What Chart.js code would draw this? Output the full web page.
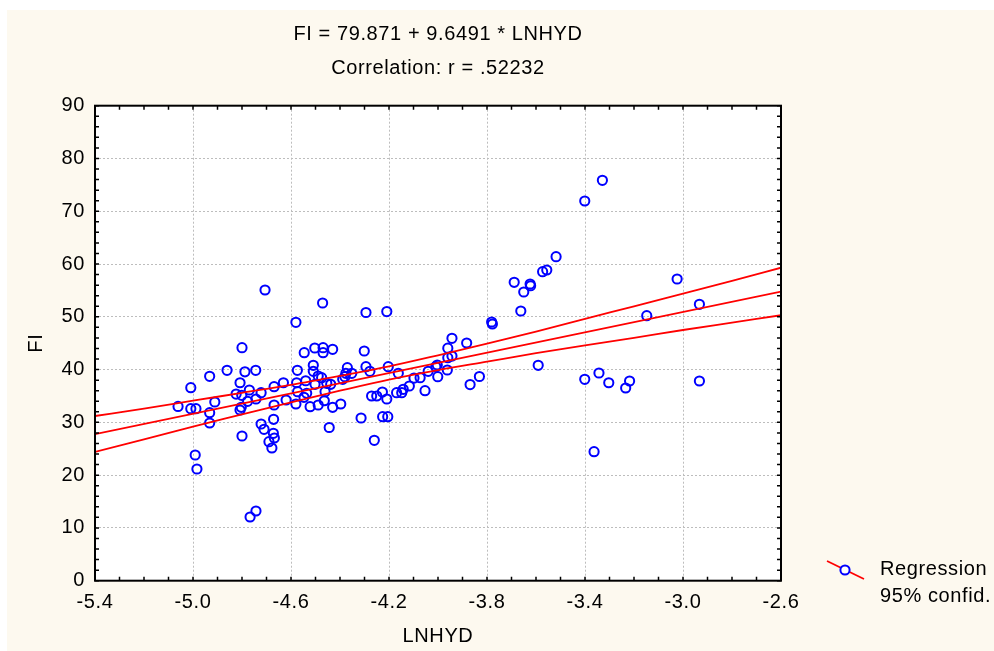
<!DOCTYPE html>
<html>
<head>
<meta charset="utf-8">
<script src="https://cdn.jsdelivr.net/npm/chart.js@4.4.1/dist/chart.umd.min.js"></script>
<style>
  html, body { margin: 0; padding: 0; background: #fff; }
  #wrap { width: 994px; height: 651px; position: relative; }
</style>
</head>
<body>
<div id="wrap"><canvas id="chart" width="994" height="651"></canvas></div>
<script>
// observed points (LNHYD, FI)
var lnhyd = [
  -5.061, -5.009, -5.009, -4.988, -4.991, -4.984, -4.932, -4.911, -4.932, -4.932,
  -4.861, -4.800, -4.808, -4.824, -4.801, -4.808, -4.803, -4.800, -4.788, -4.777,
  -4.770, -4.767, -4.743, -4.744, -4.743, -4.722, -4.722, -4.710, -4.706, -4.690,
  -4.669, -4.669, -4.671, -4.672, -4.668, -4.678, -4.631, -4.620, -4.580, -4.574,
  -4.577, -4.580, -4.573, -4.540, -4.546, -4.536, -4.547, -4.502, -4.522, -4.503,
  -4.509, -4.489, -4.509, -4.489, -4.471, -4.469, -4.469, -4.454, -4.461, -4.464,
  -4.438, -4.444, -4.430, -4.430, -4.397, -4.389, -4.376, -4.380, -4.370, -4.352,
  -4.475,
  -4.314, -4.301, -4.294, -4.294, -4.278, -4.260, -4.271, -4.250, -4.227, -4.226,
  -4.209, -4.203, -4.205, -4.209, -4.169, -4.162, -4.148, -4.142, -4.117, -4.098,
  -4.073, -4.053, -4.040, -4.009, -4.001, -4.003, -3.962, -3.960, -3.960, -3.943,
  -3.943, -3.883, -3.869, -3.831, -3.781, -3.778,
  -3.689, -3.662, -3.650, -3.624, -3.622, -3.591, -3.573, -3.556, -3.518, -3.401,
  -3.401, -3.363, -3.343, -3.329, -3.303, -3.234, -3.218, -3.148, -3.024, -2.933,
  -2.933
];
var fi = [
  33.02, 36.57, 32.59, 32.59, 23.82, 21.16, 38.73, 33.86, 31.83, 29.88,
  39.86, 44.15, 37.51, 35.37, 35.13, 32.34, 32.85, 27.42, 39.58, 33.99,
  36.13, 12.07, 13.21, 39.86, 34.43, 35.62, 29.69, 28.69, 55.08, 26.34,
  36.76, 33.29, 30.58, 27.93, 27.04, 25.14, 37.51, 34.24, 48.96, 39.86,
  37.51, 33.48, 35.81, 37.89, 43.20, 35.51, 34.75, 37.21, 32.97, 44.09,
  39.67, 38.78, 40.81, 33.29, 52.62, 44.15, 43.20, 37.40, 35.81, 34.10,
  37.21, 29.03, 43.84, 32.85, 33.48, 38.16, 39.30, 38.65, 40.36, 39.30,
  38.46,
  30.83, 43.52, 50.82, 40.55, 39.67, 26.60, 35.00, 35.00, 35.75, 31.07,
  51.00, 40.55, 31.07, 34.43, 35.62, 39.30, 35.62, 36.26, 36.89, 38.40,
  38.46, 36.00, 39.67, 40.55, 38.65, 40.87, 39.92, 42.25, 44.05, 42.57,
  45.93, 45.04, 37.17, 38.69, 49.02, 48.64,
  56.54, 51.10, 54.70, 56.22, 55.89, 40.81, 58.55, 58.87, 61.39, 71.94,
  38.16, 24.44, 39.35, 75.86, 37.51, 36.51, 37.84, 50.21, 57.16, 52.37,
  37.84
];

// regression line and 95% band
var fitX = [-5.4, -2.6];
var fitY = [27.77, 54.78];
var bandX = [-5.4, -5.2, -5.0, -4.8, -4.6, -4.4, -4.2, -4.0, -3.8, -3.6, -3.4, -3.2, -3.0, -2.8, -2.6];
var bandUpper = [31.2, 32.6, 34.1, 35.6, 37.1, 38.8, 40.6, 42.7, 44.9, 47.2, 49.6, 52.0, 54.4, 56.8, 59.3];
var bandLower = [24.4, 26.8, 29.2, 31.5, 33.8, 36.0, 38.1, 39.9, 41.5, 43.1, 44.6, 46.0, 47.5, 48.9, 50.3];

var xTicks = [-5.4, -5.0, -4.6, -4.2, -3.8, -3.4, -3.0, -2.6];
var titleLines = ['FI = 79.871 + 9.6491 * LNHYD', 'Correlation: r = .52232'];
var legendLabels = ['Regression', '95% confid.'];

var FONT = "'Liberation Sans', Arial, sans-serif";
var FONT_SIZE = 20;
var SPACING = '0.6px';

var zip = (xs, ys) => xs.map((x, i) => ({ x: x, y: ys[i] }));

var redLine = (data) => ({
  type: 'line',
  data: data,
  borderColor: '#ff0000',
  borderWidth: 1.8,
  pointRadius: 0,
  fill: false,
  cubicInterpolationMode: 'monotone',
  showLine: true,
  order: 0
});

var framePlugin = {
  id: 'frame',
  beforeDraw(chart) {
    var ctx = chart.ctx, a = chart.chartArea;
    ctx.save();
    ctx.fillStyle = '#fdf9ef';
    ctx.fillRect(7, 10, chart.width - 7, chart.height - 10);
    ctx.fillStyle = '#ffffff';
    ctx.fillRect(a.left, a.top, a.right - a.left, a.bottom - a.top);
    ctx.restore();
    // slightly wider lettering, like the original
    ctx.letterSpacing = SPACING;
  },
  afterDraw(chart) {
    var ctx = chart.ctx, a = chart.chartArea;
    var xs = chart.scales.x, ys = chart.scales.y;
    ctx.save();

    // frame
    ctx.strokeStyle = '#000';
    ctx.lineWidth = 2;
    ctx.strokeRect(a.left, a.top, a.right - a.left, a.bottom - a.top);

    // inward ticks on all four sides
    ctx.lineWidth = 1.5;
    ctx.beginPath();
    for (var i = 0; i <= 28; i++) {
      var px = xs.getPixelForValue(-5.4 + i * 0.1);
      ctx.moveTo(px, a.bottom); ctx.lineTo(px, a.bottom - 4);
      ctx.moveTo(px, a.top); ctx.lineTo(px, a.top + 4);
    }
    for (var j = 0; j <= 45; j++) {
      var py = ys.getPixelForValue(j * 2);
      ctx.moveTo(a.left, py); ctx.lineTo(a.left + 4, py);
      ctx.moveTo(a.right, py); ctx.lineTo(a.right - 4, py);
    }
    ctx.stroke();

    // titles
    var cx = (a.left + a.right) / 2;
    ctx.fillStyle = '#000';
    ctx.font = FONT_SIZE + 'px ' + FONT;
    ctx.letterSpacing = SPACING;
    ctx.textAlign = 'center';
    ctx.textBaseline = 'middle';
    ctx.fillText(titleLines[0], cx, 34);
    ctx.fillText(titleLines[1], cx, 68);

    // legend
    ctx.strokeStyle = '#ff0000';
    ctx.lineWidth = 1.8;
    ctx.beginPath();
    ctx.moveTo(827, 561); ctx.lineTo(864, 579);
    ctx.stroke();
    ctx.fillStyle = '#ffffff';
    ctx.strokeStyle = '#0000ff';
    ctx.lineWidth = 2;
    ctx.beginPath();
    ctx.arc(845, 570, 4.6, 0, Math.PI * 2);
    ctx.fill();
    ctx.stroke();
    ctx.fillStyle = '#000';
    ctx.textAlign = 'left';
    ctx.fillText(legendLabels[0], 880, 569);
    ctx.fillText(legendLabels[1], 880, 596);
    ctx.restore();
  }
};

var tickFont = { family: FONT, size: FONT_SIZE };

new Chart(document.getElementById('chart'), {
  type: 'scatter',
  data: {
    datasets: [
      redLine(zip(bandX, bandUpper)),
      redLine(zip(fitX, fitY)),
      redLine(zip(bandX, bandLower)),
      {
        type: 'scatter',
        data: zip(lnhyd, fi),
        pointRadius: 4.6,
        pointBorderWidth: 2,
        pointBorderColor: '#0000ff',
        pointBackgroundColor: 'rgba(255,255,255,0)',
        order: 1
      }
    ]
  },
  options: {
    responsive: false,
    animation: false,
    layout: { padding: { left: 7, top: 105.7, right: 213, bottom: 0 } },
    plugins: { legend: { display: false }, tooltip: { enabled: false } },
    scales: {
      x: {
        type: 'linear',
        min: -5.4,
        max: -2.6,
        afterBuildTicks: s => { s.ticks = xTicks.map(v => ({ value: v })); },
        afterFit: s => { s.height = 651 - 580.7; },
        ticks: {
          color: '#000',
          font: tickFont,
          padding: 10,
          maxRotation: 0,
          callback: v => v.toFixed(1)
        },
        grid: { color: '#bdbdbd', lineWidth: 1, drawTicks: false },
        border: { display: false, dash: [2, 2] },
        title: { display: true, text: 'LNHYD', color: '#000', font: tickFont, padding: { top: 0, bottom: 3 } }
      },
      y: {
        min: 0,
        max: 90,
        afterFit: s => { s.width = 95 - 7; },
        ticks: { stepSize: 10, color: '#000', font: tickFont, padding: 10 },
        grid: { color: '#bdbdbd', lineWidth: 1, drawTicks: false },
        border: { display: false, dash: [2, 2] },
        title: { display: true, text: 'FI', color: '#000', font: tickFont, padding: { top: 17, bottom: 0 } }
      }
    }
  },
  plugins: [framePlugin]
});
</script>
</body>
</html>
